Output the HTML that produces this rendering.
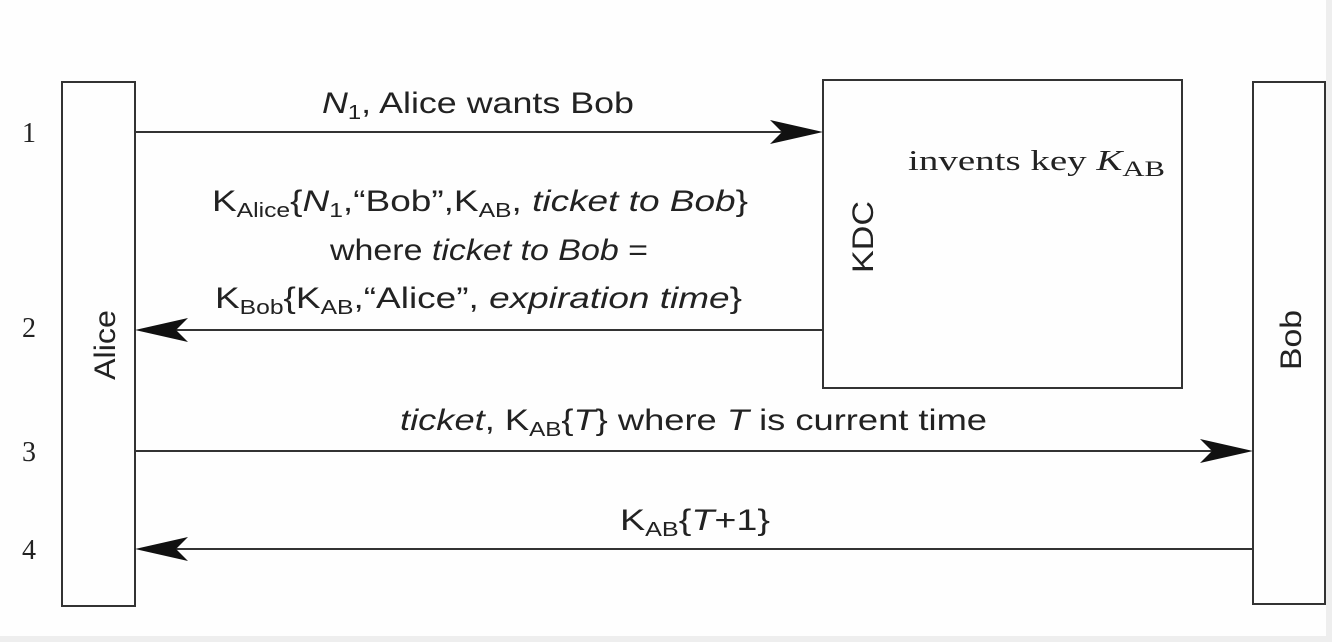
<!DOCTYPE html>
<html><head><meta charset="utf-8"><style>
html,body{margin:0;padding:0;background:#fff;}
svg{display:block}
.s{font-family:"Liberation Sans",sans-serif;font-size:30px;fill:#222}
.r{font-family:"Liberation Serif",serif;font-size:28px;fill:#222}
</style></head><body>
<svg width="1332" height="642" viewBox="0 0 1332 642" xmlns="http://www.w3.org/2000/svg">
<rect x="0" y="0" width="1332" height="642" fill="#fefefe"/>
<rect x="0" y="636" width="1332" height="6" fill="#eeeeee"/>
<rect x="1326" y="0" width="6" height="642" fill="#eeeeee"/>
<g fill="none" stroke="#333" stroke-width="2">
<rect x="62" y="82" width="73" height="524"/>
<rect x="823" y="80" width="359" height="308"/>
<rect x="1253" y="82" width="72" height="522"/>
<line x1="135" y1="132" x2="790" y2="132"/>
<line x1="823" y1="330" x2="170" y2="330"/>
<line x1="135" y1="451" x2="1220" y2="451"/>
<line x1="1253" y1="549" x2="170" y2="549"/>
</g>
<g fill="#111">
<polygon points="823,132 770,120 782,132 770,144"/>
<polygon points="135,330 188,318 176,330 188,342"/>
<polygon points="1253,451 1200,439 1212,451 1200,463"/>
<polygon points="135,549 188,537 176,549 188,561"/>
</g>
<text class="r" x="22" y="142">1</text>
<text class="r" x="22" y="337">2</text>
<text class="r" x="22" y="461">3</text>
<text class="r" x="22" y="559">4</text>
<text class="s" x="115" y="345" transform="rotate(-90 115 345)" text-anchor="middle" font-size="34" textLength="70" lengthAdjust="spacingAndGlyphs">Alice</text>
<text class="s" x="873" y="237" transform="rotate(-90 873 237)" text-anchor="middle" font-size="34" textLength="72" lengthAdjust="spacingAndGlyphs">KDC</text>
<text class="s" x="1301" y="340" transform="rotate(-90 1301 340)" text-anchor="middle" font-size="34" textLength="60" lengthAdjust="spacingAndGlyphs">Bob</text>
<text class="r" x="908" y="170" font-size="32" textLength="257" lengthAdjust="spacingAndGlyphs">invents key <tspan font-style="italic">K</tspan><tspan font-size="22" dy="6">AB</tspan></text>
<text class="s" x="322" y="113" textLength="312" lengthAdjust="spacingAndGlyphs"><tspan font-style="italic">N</tspan><tspan font-size="20" dy="6">1</tspan><tspan dy="-6">, Alice wants Bob</tspan></text>
<text class="s" x="212" y="211" textLength="536" lengthAdjust="spacingAndGlyphs"><tspan>K</tspan><tspan font-size="20" dy="6">Alice</tspan><tspan dy="-6">{</tspan><tspan font-style="italic">N</tspan><tspan font-size="20" dy="6">1</tspan><tspan dy="-6">,“Bob”,K</tspan><tspan font-size="20" dy="6">AB</tspan><tspan dy="-6">, </tspan><tspan font-style="italic">ticket to Bob</tspan><tspan>}</tspan></text>
<text class="s" x="330" y="260" textLength="318" lengthAdjust="spacingAndGlyphs">where <tspan font-style="italic">ticket to Bob</tspan> =</text>
<text class="s" x="215" y="308" textLength="527" lengthAdjust="spacingAndGlyphs"><tspan>K</tspan><tspan font-size="20" dy="6">Bob</tspan><tspan dy="-6">{K</tspan><tspan font-size="20" dy="6">AB</tspan><tspan dy="-6">,“Alice”, </tspan><tspan font-style="italic">expiration time</tspan><tspan>}</tspan></text>
<text class="s" x="400" y="430" textLength="587" lengthAdjust="spacingAndGlyphs"><tspan font-style="italic">ticket</tspan><tspan>, K</tspan><tspan font-size="20" dy="6">AB</tspan><tspan dy="-6">{</tspan><tspan font-style="italic">T</tspan><tspan>} where </tspan><tspan font-style="italic">T</tspan><tspan> is current time</tspan></text>
<text class="s" x="620" y="530" textLength="150" lengthAdjust="spacingAndGlyphs"><tspan>K</tspan><tspan font-size="20" dy="6">AB</tspan><tspan dy="-6">{</tspan><tspan font-style="italic">T</tspan><tspan>+1}</tspan></text>
</svg>
</body></html>
